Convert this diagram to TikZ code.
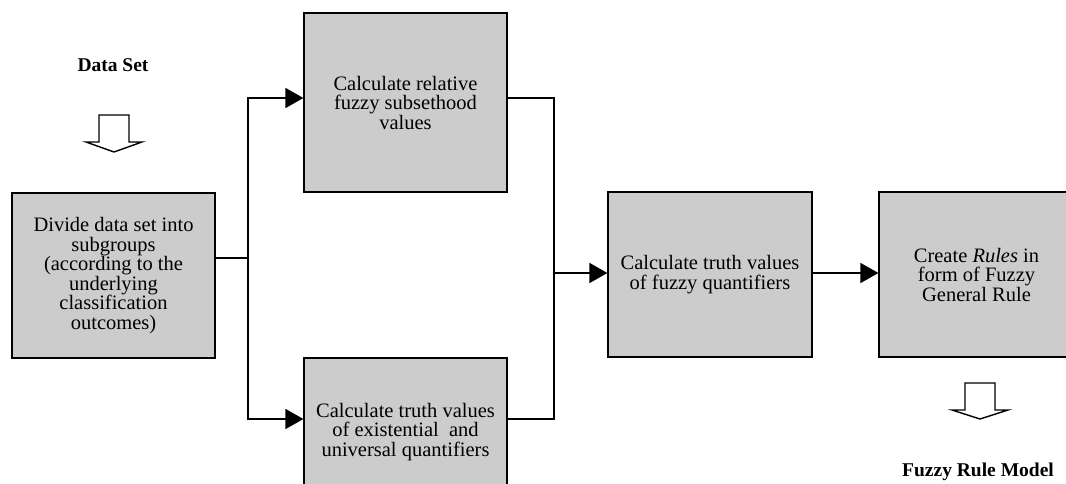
\documentclass[tikz,border=0pt]{standalone}
\usepackage{fontspec}
\setmainfont{Liberation Serif}
\usetikzlibrary{arrows.meta}

\tikzset{
  stage/.style={draw, line width=1.2pt, fill=black!20, align=center, inner sep=0pt,
    font=\fontsize{20.5}{19.5}\selectfont},
  link/.style={line width=1.6pt},
  feed/.style={link, -{Triangle[length=18pt,width=20pt]}},
  caption/.style={font=\fontsize{19.5}{20}\selectfont\bfseries},
}

\begin{document}
\begin{tikzpicture}[x=1pt,y=-1pt]
\clip (0,0) rectangle (1066,483);

\node [stage, minimum width=203pt, minimum height=165pt] (divide) at (113.5,275.5) {Divide data set into\\subgroups\\(according to the\\underlying\\classification\\outcomes)};
\node [stage, minimum width=203pt, minimum height=179pt] (relative) at (405.5,102.5) {Calculate relative\\fuzzy subsethood\\values};
\node [stage, minimum width=203pt, minimum height=148pt] (exist) at (405.5,432) {Calculate truth values\\of existential\ \ and\\universal quantifiers};
\node [stage, minimum width=204pt, minimum height=165pt] (quant) at (710,274.5) {Calculate truth values\\of fuzzy quantifiers};
\node [stage, minimum width=195pt, minimum height=165pt] (rules) at (976.5,274.5) {Create \textit{Rules} in\\form of Fuzzy\\General Rule};

\node [caption] (dataset) at (113,65) {Data Set};
\node [caption] (model) at (978,472) {Fuzzy Rule Model};

% hollow block arrows
\draw [line width=1.4pt, fill=white] (99,115) -- (129,115) -- (129,142) -- (142,142) -- (114,152) -- (86,142) -- (99,142) -- cycle;
\draw [line width=1.4pt, fill=white] (965,383) -- (995,383) -- (995,410) -- (1008,410) -- (980,419) -- (952,410) -- (965,410) -- cycle;

% connectors
\coordinate (split) at (248,258);
\coordinate (merge) at (554,273);
\draw [link] (divide.east |- split) -- (split);
\draw [feed] (split) |- ([yshift=4.5pt]relative.west);
\draw [feed] (split) |- ([yshift=13pt]exist.west);
\draw [link] ([yshift=4.5pt]relative.east) -| (merge);
\draw [link] ([yshift=13pt]exist.east) -| (merge);
\draw [feed] (merge) -- (quant.west |- merge);
\draw [feed] (quant.east |- merge) -- (rules.west |- merge);

\end{tikzpicture}
\end{document}
